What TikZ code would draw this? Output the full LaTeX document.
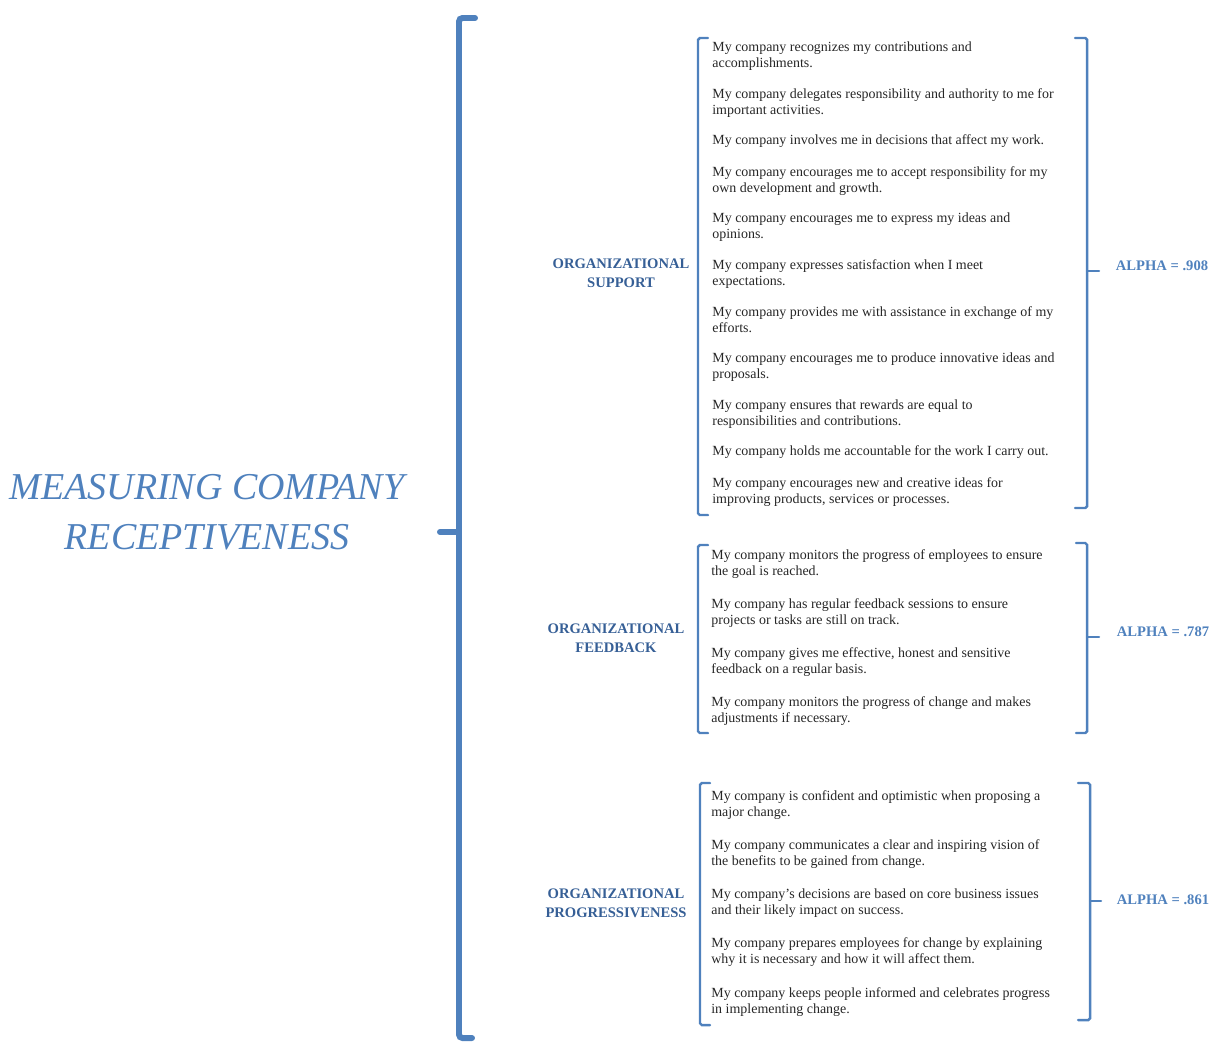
\documentclass[tikz,border=0pt]{standalone}
\usepackage{fontspec}
\setmainfont{Liberation Serif}
\usepackage{xcolor}
\usetikzlibrary{positioning}

\definecolor{brack}{HTML}{4F81BD}
\definecolor{dimblue}{HTML}{365F96}

\begin{document}
\begin{tikzpicture}[x=0.02cm, y=-0.02cm,
    item/.style={anchor=west, inner sep=0pt, align=left, font=\fontsize{7.95}{9.1}\selectfont, text=black!85},
    dim/.style={inner sep=0pt, align=center, font=\fontsize{8.3}{10.9}\selectfont\bfseries, text=dimblue},
    alpha/.style={inner sep=0pt, font=\fontsize{8.3}{10}\selectfont\bfseries, text=brack},
    bigbrace/.style={draw=brack, line width=3.4pt, line cap=round, rounded corners=2pt},
    brace/.style={draw=brack, line width=1.4pt, line cap=round, rounded corners=1pt}
]
    \useasboundingbox (0,0) rectangle (1222,1041);

    % Title
    \node[inner sep=0pt, align=center, text=brack, font=\fontsize{21.6}{28.5}\selectfont\itshape] (title) at (207,512) {MEASURING COMPANY\\RECEPTIVENESS};

    % Big brace
    \draw[bigbrace] (475,18) -- (459,18) -- (459,1038) -- (472,1038);
    \draw[bigbrace] (459,532) -- (440,532);

    % Organizational support
    \node[dim] (support) at (621,273) {ORGANIZATIONAL\\SUPPORT};
    \foreach \y/\txt [count=\i] in {
        56/{My company recognizes my contributions and\\accomplishments.},
        103/{My company delegates responsibility and authority to me for\\important activities.},
        141/{My company involves me in decisions that affect my work.},
        181/{My company encourages me to accept responsibility for my\\own development and growth.},
        227/{My company encourages me to express my ideas and\\opinions.},
        274/{My company expresses satisfaction when I meet\\expectations.},
        320/{My company provides me with assistance in exchange of my\\efforts.},
        367/{My company encourages me to produce innovative ideas and\\proposals.},
        414/{My company ensures that rewards are equal to\\responsibilities and contributions.},
        452/{My company holds me accountable for the work I carry out.},
        492/{My company encourages new and creative ideas for\\improving products, services or processes.}}
        \node[item] (sup\i) at (712,\y) {\txt};
    \draw[brace] (708,38) -- (698,38) -- (698,515) -- (708,515);
    \draw[brace] (1075,38) -- (1087,38) -- (1087,508) -- (1075,508);
    \draw[brace] (1087,271) -- (1099,271);
    \node[alpha] (a1) at (1162,266) {ALPHA = .908};

    % Organizational feedback
    \node[dim] (feedback) at (616,638) {ORGANIZATIONAL\\FEEDBACK};
    \foreach \y/\txt [count=\i] in {
        564/{My company monitors the progress of employees to ensure\\the goal is reached.},
        613/{My company has regular feedback sessions to ensure\\projects or tasks are still on track.},
        662/{My company gives me effective, honest and sensitive\\feedback on a regular basis.},
        711/{My company monitors the progress of change and makes\\adjustments if necessary.}}
        \node[item] (fb\i) at (711,\y) {\txt};
    \draw[brace] (708,545) -- (698,545) -- (698,733) -- (708,733);
    \draw[brace] (1076,543) -- (1087,543) -- (1087,733) -- (1076,733);
    \draw[brace] (1087,637) -- (1099,637);
    \node[alpha] (a2) at (1163,632) {ALPHA = .787};

    % Organizational progressiveness
    \node[dim] (progress) at (616,903) {ORGANIZATIONAL\\PROGRESSIVENESS};
    \foreach \y/\txt [count=\i] in {
        805/{My company is confident and optimistic when proposing a\\major change.},
        854/{My company communicates a clear and inspiring vision of\\the benefits to be gained from change.},
        903/{My company’s decisions are based on core business issues\\and their likely impact on success.},
        952/{My company prepares employees for change by explaining\\why it is necessary and how it will affect them.},
        1002/{My company keeps people informed and celebrates progress\\in implementing change.}}
        \node[item] (pr\i) at (711,\y) {\txt};
    \draw[brace] (710,783) -- (700,783) -- (700,1025) -- (710,1025);
    \draw[brace] (1078,783) -- (1090,783) -- (1090,1020) -- (1078,1020);
    \draw[brace] (1090,901) -- (1101,901);
    \node[alpha] (a3) at (1163,900) {ALPHA = .861};
\end{tikzpicture}
\end{document}
